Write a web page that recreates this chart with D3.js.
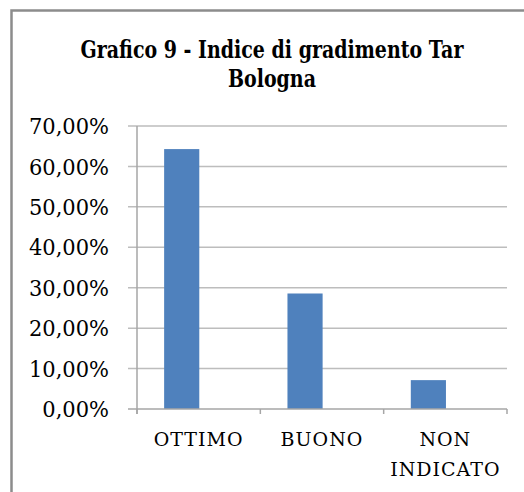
<!DOCTYPE html>
<html lang="it">
<head>
  <meta charset="UTF-8">
  <title>Grafico 9</title>
  <script src="https://d3js.org/d3.v7.min.js"></script>
  <style>
    body { margin: 0; background: #fff; }
    text { font-family: "DejaVu Serif", serif; fill: #000; }
  </style>
</head>
<body>
  <svg width="524" height="492"></svg>
<script>
  // dati
  const categories = ["OTTIMO", "BUONO", "NON INDICATO"];
  const categoryLines = [["OTTIMO"], ["BUONO"], ["NON", "INDICATO"]];
  const values = [0.6429, 0.2857, 0.0714];
  const yTicks = [0, 0.1, 0.2, 0.3, 0.4, 0.5, 0.6, 0.7];
  const titleLines = ["Grafico 9 - Indice di gradimento Tar", "Bologna"];

  const svg = d3.select("svg");

  const it = d3.formatLocale({ decimal: ",", thousands: ".", grouping: [3], currency: ["€", ""] });
  const fmt = it.format(".2%");

  const plot = { left: 137, right: 507, top: 126, bottom: 409 };

  // bordo del grafico
  svg.append("rect")
    .attr("x", 11.5).attr("y", 10.5)
    .attr("width", 600).attr("height", 600)
    .attr("fill", "none")
    .attr("stroke", "#8c8c8c")
    .attr("stroke-width", 2.5);

  // titolo (un po' allungato in verticale come nell'originale)
  const ts = 1.25;
  svg.append("text")
    .attr("transform", `scale(1,${ts})`)
    .attr("text-anchor", "middle")
    .attr("font-weight", "bold")
    .attr("font-size", 19)
    .selectAll("tspan")
    .data(titleLines)
    .join("tspan")
    .attr("x", 272)
    .attr("y", (d, i) => (58 + i * 29) / ts)
    .text(d => d);

  const y = d3.scaleLinear().domain([0, 0.7]).range([plot.bottom, plot.top]);
  const x = d3.scaleBand().domain(categories).range([plot.left, plot.right]);

  // griglia
  svg.append("g")
    .selectAll("line")
    .data(yTicks.filter(d => d > 0))
    .join("line")
    .attr("x1", plot.left - 9).attr("x2", plot.right)
    .attr("y1", d => y(d)).attr("y2", d => y(d))
    .attr("stroke", "#bdbdbd")
    .attr("stroke-width", 1.5);

  // etichette asse y
  const ls = 1.08;
  svg.append("g")
    .attr("transform", `scale(1,${ls})`)
    .selectAll("text")
    .data(yTicks)
    .join("text")
    .attr("x", 109)
    .attr("y", d => y(d) / ls)
    .attr("dy", "0.36em")
    .attr("text-anchor", "end")
    .attr("font-size", 21)
    .text(d => fmt(d));

  // barre
  svg.append("g")
    .selectAll("rect")
    .data(values)
    .join("rect")
    .attr("x", (d, i) => x(categories[i]) + x.bandwidth() * 0.22)
    .attr("width", x.bandwidth() * 0.285)
    .attr("y", d => y(d))
    .attr("height", d => y(0) - y(d))
    .attr("fill", "#4f81bd");

  // assi
  svg.append("line")
    .attr("x1", plot.left).attr("x2", plot.left)
    .attr("y1", plot.top).attr("y2", plot.bottom + 5)
    .attr("stroke", "#a6a6a6").attr("stroke-width", 1.5);
  svg.append("line")
    .attr("x1", plot.left - 9).attr("x2", plot.right)
    .attr("y1", plot.bottom).attr("y2", plot.bottom)
    .attr("stroke", "#a6a6a6").attr("stroke-width", 1.5);
  svg.append("g")
    .selectAll("line")
    .data(categories.map(c => x(c)).concat([plot.right]))
    .join("line")
    .attr("x1", d => d).attr("x2", d => d)
    .attr("y1", plot.bottom).attr("y2", plot.bottom + 5)
    .attr("stroke", "#a6a6a6").attr("stroke-width", 1.5);

  // etichette categorie
  svg.append("g")
    .selectAll("text")
    .data(categories)
    .join("text")
    .attr("text-anchor", "middle")
    .attr("font-size", 19)
    .attr("letter-spacing", 1)
    .each(function (c, i) {
      d3.select(this).selectAll("tspan")
        .data(categoryLines[i])
        .join("tspan")
        .attr("x", x(c) + x.bandwidth() / 2)
        .attr("y", (d, j) => 446 + j * 30)
        .text(d => d);
    });
</script>
</body>
</html>
